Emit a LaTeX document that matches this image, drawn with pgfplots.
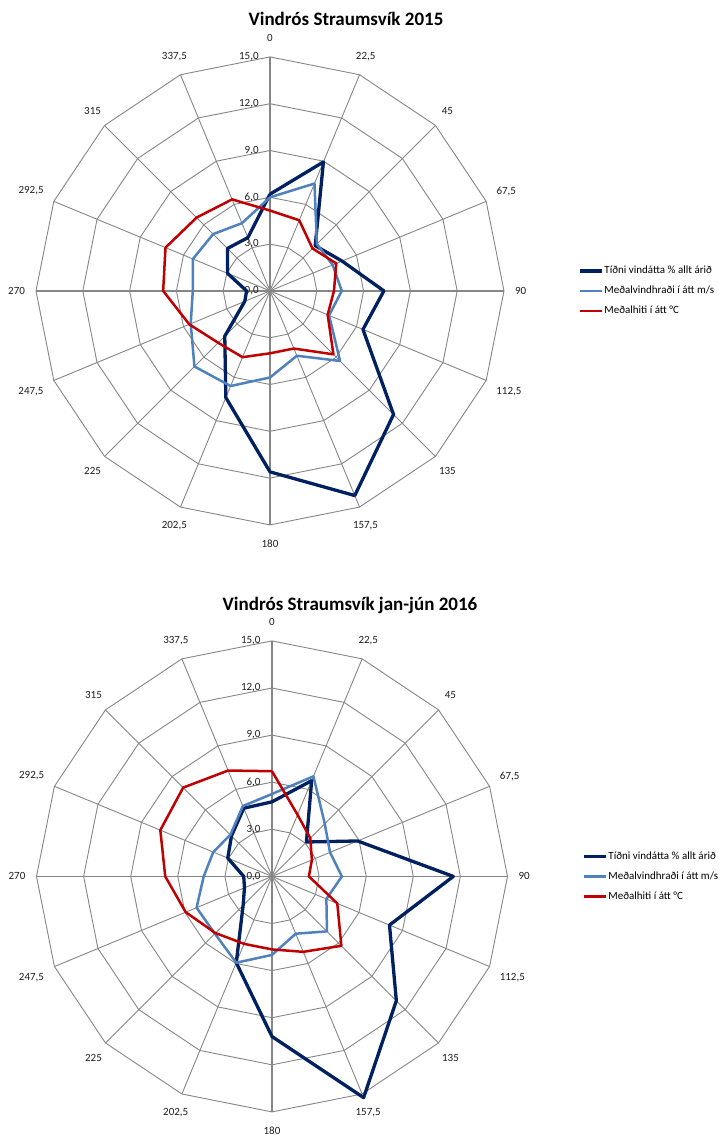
\documentclass[border=0pt]{standalone}
\usepackage{fontspec}
\setmainfont{Carlito}
\usepackage{pgfplots}
\pgfplotsset{compat=1.18}
\usepackage{pgfplotstable}

\definecolor{navy}{RGB}{0,32,96}
\definecolor{lblue}{RGB}{79,129,189}
\definecolor{dred}{RGB}{192,0,0}
\definecolor{gridc}{RGB}{134,134,134}
\definecolor{txtc}{RGB}{30,30,30}

% 2015: deg, frequency %, mean wind speed m/s, mean temperature C
\pgfplotstableread{
deg   f     w     t
0     6.2   6.0   5.15
22.5  8.95  7.45  4.9
45    4.1   4.25  3.85
67.5  5.0   4.35  4.6
90    7.3   4.6   4.1
112.5 6.45  4.1   4.0
135   11.2  6.35  5.75
157.5 14.2  4.5   4.0
180   11.6  5.55  4.0
202.5 7.4   6.6   4.6
225   4.1   6.85  4.7
247.5 1.75  5.5   5.6
270   1.5   4.95  6.85
292.5 2.95  5.35  7.25
315   3.85  5.15  6.65
337.5 3.7   4.7   6.35
360   6.2   6.0   5.15
}\dataA

% jan-jun 2016
\pgfplotstableread{
deg   f     w     t
0     4.75  5.25  6.7
22.5  6.6   6.9   4.25
45    3.1   4.75  3.45
67.5  5.9   4.0   2.75
90    11.55 4.45  2.35
112.5 8.1   3.75  4.5
135   11.2  4.95  6.25
157.5 15.25 3.95  5.2
180   10.2  5.0   4.65
202.5 5.95  5.95  4.65
225   2.6   5.15  5.1
247.5 1.9   5.2   5.95
270   1.8   4.35  6.8
292.5 3.05  4.05  7.7
315   3.65  3.75  8.0
337.5 4.7   4.85  7.3
360   4.75  5.25  6.7
}\dataB

\newcommand{\lblfont}{\fontsize{11}{13}\selectfont}

\newcommand{\radargrid}[3]{%
\begin{scope}[shift={(#1pt,-#2pt)}, x=#3pt, y=#3pt]
  \foreach \r in {3,6,9,12,15}{
    \draw[gridc, line width=0.9pt] (0,\r) \foreach \k in {1,...,15}{ -- ({\r*sin(\k*22.5)},{\r*cos(\k*22.5)}) } -- cycle;
  }
  \foreach \k in {1,2,3,5,6,7,9,10,11,13,14,15}{
    \draw[gridc, line width=0.9pt] (0,0) -- ({15*sin(\k*22.5)},{15*cos(\k*22.5)});
  }
  \draw[gridc, line width=1.6pt] (0,-15) -- (0,15);
  \draw[gridc, line width=1.6pt] (-15,0) -- (15,0);
  \foreach \v/\t in {0/{0,0},3/{3,0},6/{6,0},9/{9,0},12/{12,0},15/{15,0}}{
    \node[anchor=east, inner sep=0pt, font=\lblfont, text=txtc] at (-0.72,\v) {\t};
  }
  \foreach \k/\t in {0/0,1/{22,5},2/45,3/{67,5},4/90,5/{112,5},6/135,7/{157,5},8/180,9/{202,5},10/225,11/{247,5},12/270,13/{292,5},14/315,15/{337,5}}{
    \pgfmathsetmacro{\ang}{mod(630-\k*22.5,360)}
    \node[anchor=\ang, inner sep=1.5pt, font=\lblfont, text=txtc] at ({15.6*sin(\k*22.5)},{15.85*cos(\k*22.5)}) {\t};
  }
\end{scope}}

\pgfplotsset{
  radar/.style={anchor=center, x=#1pt, y=#1pt, xmin=-15, xmax=15, ymin=-15, ymax=15,
    hide axis, clip=false, legend cell align=left,
    legend style={at={(1.158,0.5)}, anchor=west, draw=none, fill=none, inner sep=0pt,
      font=\lblfont, row sep=7.5pt, nodes={inner sep=1pt, text height=8pt, text depth=2.5pt}},
    legend image code/.code={\draw[##1] (0pt,0pt) -- (22pt,0pt);}},
  fser/.style={navy, line width=3.3pt, line join=round},
  wser/.style={lblue, line width=2.5pt, line join=round},
  tser/.style={dred, line width=2.5pt, line join=round},
}

\begin{document}
\begin{tikzpicture}
\useasboundingbox (0,0) rectangle (719pt,-1135pt);

% ---------- 2015 ----------
\node[font=\bfseries\fontsize{19}{22}\selectfont, text=black] at (346pt,-19pt) {Vindrós Straumsvík 2015};
\radargrid{270}{290.9}{15.6}
\begin{axis}[radar=15.6, at={(270pt,-290.9pt)}]
\addplot[fser] table[x expr={\thisrow{f}*sin(\thisrow{deg})}, y expr={\thisrow{f}*cos(\thisrow{deg})}] {\dataA};
\addlegendentry{Tíðni vindátta \% allt árið}
\addplot[wser] table[x expr={\thisrow{w}*sin(\thisrow{deg})}, y expr={\thisrow{w}*cos(\thisrow{deg})}] {\dataA};
\addlegendentry{Meðalvindhraði í átt m/s}
\addplot[tser] table[x expr={\thisrow{t}*sin(\thisrow{deg})}, y expr={\thisrow{t}*cos(\thisrow{deg})}] {\dataA};
\addlegendentry{Meðalhiti í átt °C}
\end{axis}

% ---------- 2016 ----------
\node[font=\bfseries\fontsize{19}{22}\selectfont, text=black] at (350pt,-605pt) {Vindrós Straumsvík jan-jún 2016};
\radargrid{272}{876.4}{15.7}
\begin{axis}[radar=15.7, at={(272pt,-876.4pt)}]
\addplot[fser] table[x expr={\thisrow{f}*sin(\thisrow{deg})}, y expr={\thisrow{f}*cos(\thisrow{deg})}] {\dataB};
\addlegendentry{Tíðni vindátta \% allt árið}
\addplot[wser] table[x expr={\thisrow{w}*sin(\thisrow{deg})}, y expr={\thisrow{w}*cos(\thisrow{deg})}] {\dataB};
\addlegendentry{Meðalvindhraði í átt m/s}
\addplot[tser] table[x expr={\thisrow{t}*sin(\thisrow{deg})}, y expr={\thisrow{t}*cos(\thisrow{deg})}] {\dataB};
\addlegendentry{Meðalhiti í átt °C}
\end{axis}
\end{tikzpicture}
\end{document}
